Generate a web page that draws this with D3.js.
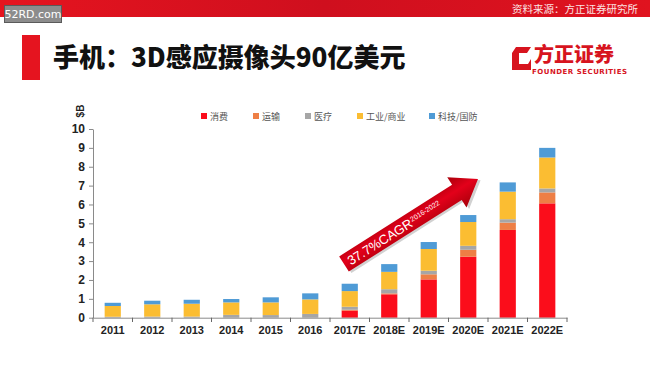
<!DOCTYPE html>
<html><head><meta charset="utf-8">
<script src="https://cdn.jsdelivr.net/npm/d3@7"></script>
<style>body{margin:0;background:#fff}svg{display:block}</style>
</head><body>
<script>
const categories = ["2011","2012","2013","2014","2015","2016","2017E","2018E","2019E","2020E","2021E","2022E"];
const seriesNames = ["消费","运输","医疗","工业/商业","科技/国防"];
const consumer   = [0,0,0,0,0,0,0.38,1.24,2.03,3.23,4.65,6.06];
const transport  = [0,0,0,0,0,0,0.04,0.05,0.27,0.37,0.39,0.58];
const medical    = [0.05,0.06,0.06,0.15,0.14,0.20,0.16,0.22,0.19,0.21,0.18,0.21];
const industrial = [0.57,0.65,0.68,0.66,0.67,0.77,0.83,0.92,1.15,1.26,1.46,1.64];
const defense    = [0.17,0.19,0.21,0.18,0.27,0.32,0.39,0.41,0.37,0.37,0.49,0.51];
const yTicks = [0,1,2,3,4,5,6,7,8,9,10];
const colors = ["#fb0d1b","#ee7f45","#a6a6a6","#fbbd32","#4f9bd6"];

const W=650,H=369;
const svg=d3.select("body").append("svg").attr("width",W).attr("height",H);
const defs=svg.append("defs");
const bg=defs.append("linearGradient").attr("id","ban").attr("x1","0").attr("x2","1");
bg.append("stop").attr("offset","0").attr("stop-color","#e5141f");
bg.append("stop").attr("offset","0.5").attr("stop-color","#cf0f1e");
bg.append("stop").attr("offset","1").attr("stop-color","#e0131f");
const ag=defs.append("linearGradient").attr("id","arr").attr("x1","0").attr("y1","0").attr("x2","0").attr("y2","1");
ag.append("stop").attr("offset","0").attr("stop-color","#a8000a");
ag.append("stop").attr("offset","0.45").attr("stop-color","#e3001a");
ag.append("stop").attr("offset","1").attr("stop-color","#a8000a");

// banner
svg.append("rect").attr("x",0).attr("y",0).attr("width",W).attr("height",17).attr("fill","url(#ban)");
svg.append("text").attr("x",638).attr("y",12.5).attr("text-anchor","end")
  .attr("font-family","Noto Sans CJK SC").attr("font-size",10.5).attr("fill","#fbe3e3").text("资料来源：方正证券研究所");
svg.append("rect").attr("x",4.5).attr("y",5.5).attr("width",57).attr("height",17).attr("fill","#8c8c8c").attr("stroke","#5a5a5a");
svg.append("text").attr("x",33).attr("y",18).attr("text-anchor","middle")
  .attr("font-family","DejaVu Sans").attr("font-size",11).attr("fill","#fff").text("52RD.com");

// title
svg.append("rect").attr("x",22).attr("y",35).attr("width",18).attr("height",45).attr("fill","#e5141f");
svg.append("text").attr("x",53).attr("y",67).attr("font-family","Noto Sans CJK SC").attr("font-weight",900)
  .attr("font-size",26).attr("fill","#111").text("手机：3D感应摄像头90亿美元");

// logo
const lg=svg.append("g");
lg.append("path").attr("d","M516,47 L531,47 L527,53 L519,53 L519,64 L528,64 L531,59 L531,70 L512,70 L512,53 Z").attr("fill","#d7141e");
lg.append("path").attr("d","M522,57 L528,57 L528,61 L522,61 Z").attr("fill","#fff");
lg.append("text").attr("x",534).attr("y",62).attr("font-family","Noto Sans CJK SC").attr("font-weight",900)
  .attr("font-size",20).attr("fill","#d7141e").text("方正证券");
lg.append("text").attr("x",532).attr("y",74).attr("font-family","DejaVu Sans").attr("font-weight",700)
  .attr("font-size",7).attr("fill","#d7141e").attr("textLength",95).text("FOUNDER SECURITIES");

// scales
const x=d3.scaleBand().domain(categories).range([93,567]).padding(0);
const y=d3.scaleLinear().domain([0,10]).range([317.7,129]);
const bw=x.bandwidth()*0.41;

const rows=categories.map((c,i)=>({cat:c,"消费":consumer[i],"运输":transport[i],"医疗":medical[i],"工业/商业":industrial[i],"科技/国防":defense[i]}));
const stack=d3.stack().keys(seriesNames)(rows);
const cz=d3.scaleOrdinal().domain(seriesNames).range(colors);
svg.append("g").selectAll("g").data(stack).join("g").attr("fill",d=>cz(d.key))
  .selectAll("rect").data(d=>d).join("rect")
  .attr("x",d=>x(d.data.cat)+(x.bandwidth()-bw)/2).attr("width",bw)
  .attr("y",d=>y(d[1])).attr("height",d=>Math.max(0,y(d[0])-y(d[1])));

// y axis
const ya=svg.append("g").attr("transform","translate(93,0)")
  .call(d3.axisLeft(y).tickValues(yTicks).tickSize(4).tickSizeOuter(0));
ya.select(".domain").attr("stroke","#8a8a8a");
ya.selectAll(".tick line").attr("stroke","#8a8a8a");
ya.selectAll("text").attr("font-family","Liberation Sans").attr("font-weight",700).attr("font-size",12).attr("fill","#222").attr("dx","-1");

// x axis
const xa=svg.append("g").attr("transform","translate(0,317.7)")
  .call(d3.axisBottom(x).tickSize(0).tickSizeOuter(0).tickPadding(9));
xa.select(".domain").attr("stroke","#8a8a8a");
xa.selectAll("text").attr("font-family","Liberation Sans").attr("font-weight",700).attr("font-size",11).attr("fill","#222");
svg.append("g").selectAll("line").data(d3.range(categories.length+1)).join("line")
  .attr("x1",i=>x.range()[0]+i*x.step()).attr("x2",i=>x.range()[0]+i*x.step())
  .attr("y1",317.7).attr("y2",322).attr("stroke","#666");

// y label
svg.append("text").attr("transform","translate(84,111) rotate(-90)").attr("text-anchor","middle")
  .attr("font-family","Liberation Sans").attr("font-weight",700).attr("font-size",10).attr("fill","#222").text("$B");

// legend
const legX=[201,253,305,357,429];
const leg=svg.append("g").selectAll("g").data(seriesNames).join("g").attr("transform",(d,i)=>`translate(${legX[i]},113)`);
leg.append("rect").attr("width",6).attr("height",6).attr("fill",d=>cz(d));
leg.append("text").attr("x",9).attr("y",6.5).attr("font-family","Noto Sans CJK SC").attr("font-size",9).attr("fill","#555").text(d=>d);

// arrow annotation
const ax0=344,ay0=264,ax1=478,ay1=179;
const ang=Math.atan2(ay1-ay0,ax1-ax0)*180/Math.PI;
const L=Math.hypot(ax1-ax0,ay1-ay0);
const ga=svg.append("g").attr("transform",`translate(${ax0},${ay0}) rotate(${ang})`);
const ap=`M0,-9 L${L-25},-9 L${L-25},-18 L${L},0 L${L-25},18 L${L-25},9 L0,9 Z`;
ga.append("path").attr("d",ap).attr("fill","#999").attr("opacity",0.45).attr("transform","translate(1.5,2.5)");
ga.append("path").attr("d",ap).attr("fill","url(#arr)");
ga.append("text").attr("x",5).attr("y",5).attr("font-family","Liberation Sans").attr("font-size",13).attr("fill","#fff").text("37.7%CAGR");
ga.append("text").attr("x",80).attr("y",1).attr("font-family","Liberation Sans").attr("font-size",7).attr("fill","#fff").text("2016-2022");
</script>
</body></html>
